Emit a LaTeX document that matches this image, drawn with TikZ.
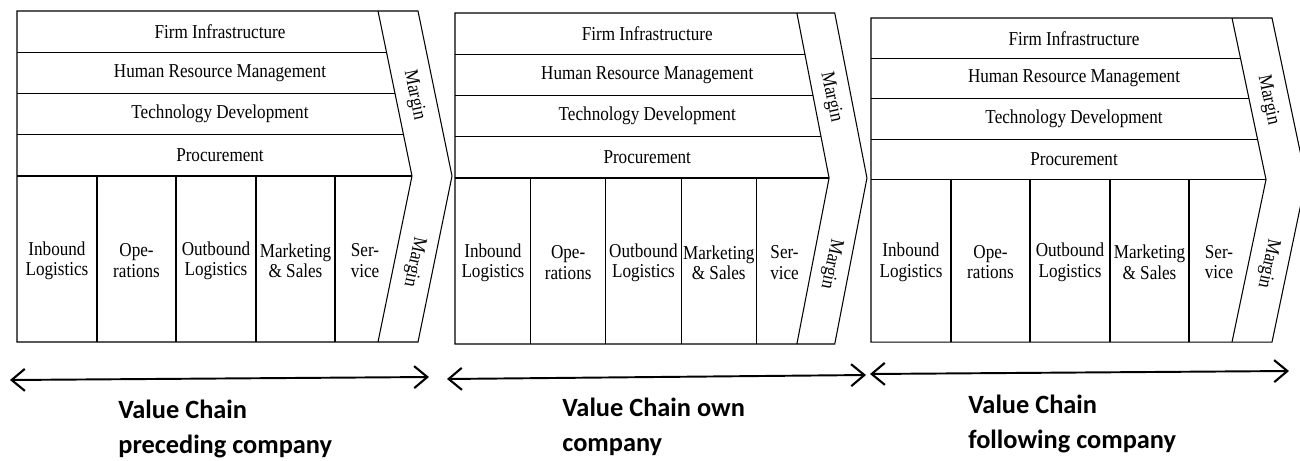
\documentclass[tikz,border=0pt]{standalone}
\usepackage{fontspec}
\setmainfont{Liberation Serif}[FakeStretch=0.87]
\newfontfamily\captionfont{Carlito}
\usepackage{tikz}
\usetikzlibrary{arrows.meta}

\tikzset{
  chainLine/.style={line width=0.6pt, line join=miter},
  chainText/.style={font=\fontsize{11.2}{11.6}\selectfont, inner sep=0pt, align=center},
  marginText/.style={font=\fontsize{11.2}{12}\selectfont, inner sep=0pt},
  captionText/.style={font=\captionfont\bfseries\fontsize{15}{20}\selectfont,
    anchor=north west, align=left, inner sep=0pt},
  twoWay/.style={line width=1.1pt,
    {Straight Barb[length=7.5pt,width=12.5pt,line width=1.2pt]}-{Straight Barb[length=7.5pt,width=12.5pt,line width=1.2pt]}},
}

\begin{document}
\begin{tikzpicture}[x=0.02cm, y=-0.02cm]
  \useasboundingbox (0,0) rectangle (1300,460);
  \clip (0,0) rectangle (1300,460);

  % preceding company
  \begin{scope}[shift={(17,11)}]
    \draw[chainLine] (0,0) -- (401,0) -- (435,165) -- (401,331) -- (0,331) -- cycle;
    \draw[chainLine] (361,0) -- (395,165) -- (361,331);
    \draw[chainLine] (0,41.25) -- (369.5,41.25) (0,82.5) -- (378,82.5)
      (0,123.75) -- (386.5,123.75) (0,165) -- (395,165);
    \draw[chainLine] (80,165) -- (80,331) (159,165) -- (159,331)
      (239,165) -- (239,331) (318,165) -- (318,331);
    \node[chainText] (fi1) at (203,20.6) {Firm Infrastructure};
    \node[chainText] (hrm1) at (203,61.9) {Human Resource Management};
    \node[chainText] (td1) at (203,103.1) {Technology Development};
    \node[chainText] (pr1) at (203,144.4) {Procurement};
    \node[chainText] (il1) at (40,249.5) {Inbound\\Logistics};
    \node[chainText] (op1) at (119.5,249.5) {Ope-\\rations};
    \node[chainText] (ol1) at (199,249.5) {Outbound\\Logistics};
    \node[chainText] (ms1) at (278.5,249.5) {Marketing\\\& Sales};
    \node[chainText] (sv1) at (348,249.5) {Ser-\\vice};
    \node[marginText, rotate=-78] (mu1) at (397,84) {Margin};
    \node[marginText, rotate=-102] (ml1) at (397,251) {Margin};
  \end{scope}

  % own company
  \begin{scope}[shift={(455,13)}, xscale=0.947]
    \draw[chainLine] (0,0) -- (401,0) -- (435,165) -- (401,331) -- (0,331) -- cycle;
    \draw[chainLine] (361,0) -- (395,165) -- (361,331);
    \draw[chainLine] (0,41.25) -- (369.5,41.25) (0,82.5) -- (378,82.5)
      (0,123.75) -- (386.5,123.75) (0,165) -- (395,165);
    \draw[chainLine] (80,165) -- (80,331) (159,165) -- (159,331)
      (239,165) -- (239,331) (318,165) -- (318,331);
    \node[chainText] (fi2) at (203,20.6) {Firm Infrastructure};
    \node[chainText] (hrm2) at (203,61.9) {Human Resource Management};
    \node[chainText] (td2) at (203,103.1) {Technology Development};
    \node[chainText] (pr2) at (203,144.4) {Procurement};
    \node[chainText] (il2) at (40,249.5) {Inbound\\Logistics};
    \node[chainText] (op2) at (119.5,249.5) {Ope-\\rations};
    \node[chainText] (ol2) at (199,249.5) {Outbound\\Logistics};
    \node[chainText] (ms2) at (278.5,249.5) {Marketing\\\& Sales};
    \node[chainText] (sv2) at (348,249.5) {Ser-\\vice};
    \node[marginText, rotate=-78] (mu2) at (397,84) {Margin};
    \node[marginText, rotate=-102] (ml2) at (397,251) {Margin};
  \end{scope}

  % following company
  \begin{scope}[shift={(871,18)}, yscale=0.979]
    \draw[chainLine] (0,0) -- (401,0) -- (435,165) -- (401,331) -- (0,331) -- cycle;
    \draw[chainLine] (361,0) -- (395,165) -- (361,331);
    \draw[chainLine] (0,41.25) -- (369.5,41.25) (0,82.5) -- (378,82.5)
      (0,123.75) -- (386.5,123.75) (0,165) -- (395,165);
    \draw[chainLine] (80,165) -- (80,331) (159,165) -- (159,331)
      (239,165) -- (239,331) (318,165) -- (318,331);
    \node[chainText] (fi3) at (203,20.6) {Firm Infrastructure};
    \node[chainText] (hrm3) at (203,61.9) {Human Resource Management};
    \node[chainText] (td3) at (203,103.1) {Technology Development};
    \node[chainText] (pr3) at (203,144.4) {Procurement};
    \node[chainText] (il3) at (40,249.5) {Inbound\\Logistics};
    \node[chainText] (op3) at (119.5,249.5) {Ope-\\rations};
    \node[chainText] (ol3) at (199,249.5) {Outbound\\Logistics};
    \node[chainText] (ms3) at (278.5,249.5) {Marketing\\\& Sales};
    \node[chainText] (sv3) at (348,249.5) {Ser-\\vice};
    \node[marginText, rotate=-78] (mu3) at (397,84) {Margin};
    \node[marginText, rotate=-102] (ml3) at (397,251) {Margin};
  \end{scope}

  % extent arrows
  \coordinate (p1) at (10,380);
  \coordinate (p2) at (429,377);
  \coordinate (o1) at (447,379);
  \coordinate (o2) at (866,375);
  \coordinate (f1) at (870,374);
  \coordinate (f2) at (1289,371);
  \draw[twoWay] (p1) -- (p2);
  \draw[twoWay] (o1) -- (o2);
  \draw[twoWay] (f1) -- (f2);

  \node[captionText] (cp) at (118,400) {Value Chain\\preceding company};
  \node[captionText] (co) at (562,398) {Value Chain own\\company};
  \node[captionText] (cf) at (968,395) {Value Chain\\following company};
\end{tikzpicture}
\end{document}
